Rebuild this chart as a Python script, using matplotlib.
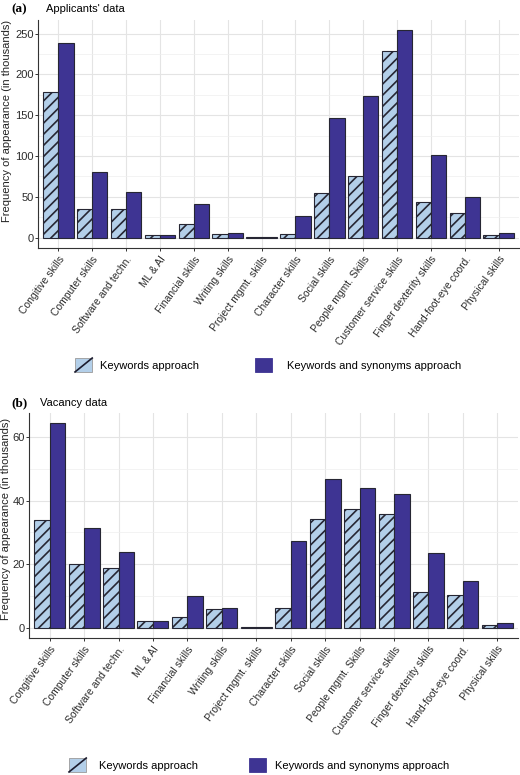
import matplotlib
matplotlib.use("Agg")
import matplotlib.pyplot as plt
import numpy as np
from matplotlib.patches import Patch, Rectangle
from matplotlib.lines import Line2D
from matplotlib.legend_handler import HandlerBase
from matplotlib.ticker import MultipleLocator

plt.rcParams['font.family'] = ['Liberation Sans', 'DejaVu Sans']
plt.rcParams['hatch.linewidth'] = 1.2

categories = ["Congitive skills", "Computer skills", "Software and techn.", "ML & AI",
              "Financial skills", "Writing skills", "Project mgmt. skills", "Character skills",
              "Social skills", "People mgmt. Skills", "Customer service skills",
              "Finger dexterity skills", "Hand-foot-eye coord.", "Physical skills"]

applicants_keywords = [178, 35.5, 35, 3, 17, 4.5, 0.4, 5, 55, 75, 229, 43.5, 30.5, 3.3]
applicants_synonyms = [238, 80.5, 56, 3, 41, 6, 0.4, 26.5, 146.5, 174, 254, 101, 49.5, 5.7]

vacancy_keywords = [33.8, 20.1, 18.9, 2.1, 3.3, 5.9, 0.15, 6.1, 34.1, 37.5, 35.7, 11.2, 10.4, 0.8]
vacancy_synonyms = [64.4, 31.3, 23.9, 2.1, 10.0, 6.2, 0.15, 27.4, 46.9, 43.9, 42.1, 23.4, 14.7, 1.5]

series_labels = ["Keywords approach", "Keywords and synonyms approach"]
ylabel = "Frequency of appearance (in thousands)"

LIGHT = "#b3cfe9"
DARK = "#3e3493"
EDGE = "#262633"
GRID = "#e4e4e4"
AX = "#333333"

fig = plt.figure(figsize=(5.2, 7.75), dpi=100)
W, H = 520, 775

def add_ax(left, right, top, bottom):
    return fig.add_axes([left / W, 1 - bottom / H, (right - left) / W, (bottom - top) / H])

def draw_panel(ax, kw, syn, major, minor):
    x = np.arange(1, len(categories) + 1)
    bw = 0.45
    ax.bar(x - bw / 2, kw, width=bw, color=LIGHT, edgecolor=EDGE, linewidth=0.8,
           hatch='///', zorder=3)
    ax.bar(x + bw / 2, syn, width=bw, color=DARK, edgecolor=EDGE, linewidth=0.8, zorder=3)
    ax.set_xlim(0.4, len(categories) + 0.6)
    top = max(max(kw), max(syn))
    ax.set_ylim(-0.05 * top, top * 1.05)
    ax.yaxis.set_major_locator(MultipleLocator(major))
    ax.yaxis.set_minor_locator(MultipleLocator(minor))
    ax.set_xticks(x)
    ax.set_xticklabels(categories, rotation=54, ha='right', rotation_mode='anchor',
                       fontsize=7.5, color='#2b2b2b')
    ax.tick_params(axis='y', labelsize=8, labelcolor='#2b2b2b', color=AX, length=2.2,
                   width=0.7, pad=1.0)
    ax.tick_params(axis='x', color=AX, length=2.5, width=0.7, pad=2)
    ax.tick_params(axis='y', which='minor', length=0)
    ax.grid(True, which='major', color=GRID, linewidth=0.8, zorder=0)
    ax.grid(True, which='minor', axis='y', color='#efefef', linewidth=0.5, zorder=0)
    ax.set_axisbelow(True)
    for s in ['top', 'right']:
        ax.spines[s].set_visible(False)
    for s in ['left', 'bottom']:
        ax.spines[s].set_color(AX)
        ax.spines[s].set_linewidth(0.8)

ax1 = add_ax(38, 519, 20, 248)
draw_panel(ax1, applicants_keywords, applicants_synonyms, 50, 25)
ax2 = add_ax(29, 518, 413, 638)
draw_panel(ax2, vacancy_keywords, vacancy_synonyms, 20, 10)

fig.text(7 / W, 1 - 121 / H, ylabel, rotation=90, fontsize=8, color='#222222',
         ha='center', va='center')
fig.text(6.5 / W, 1 - 519 / H, ylabel, rotation=90, fontsize=8, color='#222222',
         ha='center', va='center')

fig.text(11 / W, 1 - 9 / H, "(a)", fontsize=9.5, fontweight='bold', family='Liberation Serif',
         va='center', ha='left')
fig.text(46 / W, 1 - 9 / H, "Applicants' data", fontsize=8, va='center', ha='left')
fig.text(11 / W, 1 - 403 / H, "(b)", fontsize=9.5, fontweight='bold', family='Liberation Serif',
         va='center', ha='left')
fig.text(40 / W, 1 - 403 / H, "Vacancy data", fontsize=8, va='center', ha='left')


class HatchKeyHandler(HandlerBase):
    def create_artists(self, legend, orig_handle, xdescent, ydescent, width, height,
                       fontsize, trans):
        rect = Rectangle((-xdescent, -ydescent), width, height, facecolor=LIGHT,
                         edgecolor='#9a9a9a', linewidth=0.6, transform=trans)
        line = Line2D([-xdescent, -xdescent + width], [-ydescent, -ydescent + height],
                      color='#1b1b2e', linewidth=1.2, transform=trans)
        return [rect, line]


def legend_entry(handle, label, xleft, ycenter, pad_px, hatch_key=False):
    kwargs = {}
    if hatch_key:
        kwargs['handler_map'] = {Patch: HatchKeyHandler()}
    fig.legend([handle], [label], loc='center left',
               bbox_to_anchor=(xleft / W, 1 - ycenter / H),
               frameon=False, fontsize=8, handlelength=1.55, handleheight=1.55,
               handletextpad=pad_px * 0.72 / 8, borderpad=0, borderaxespad=0, **kwargs)

light_handle = Patch(facecolor=LIGHT, edgecolor='#8a8a8a', linewidth=0.6)
dark_handle = Patch(facecolor=DARK, edgecolor=DARK, linewidth=0.6)

legend_entry(light_handle, series_labels[0], 75, 365, 8, hatch_key=True)
legend_entry(dark_handle, series_labels[1], 255, 365, 15)
legend_entry(light_handle, series_labels[0], 69, 765, 13, hatch_key=True)
legend_entry(dark_handle, series_labels[1], 249, 765, 9)

fig.savefig("out.png", dpi=100)
